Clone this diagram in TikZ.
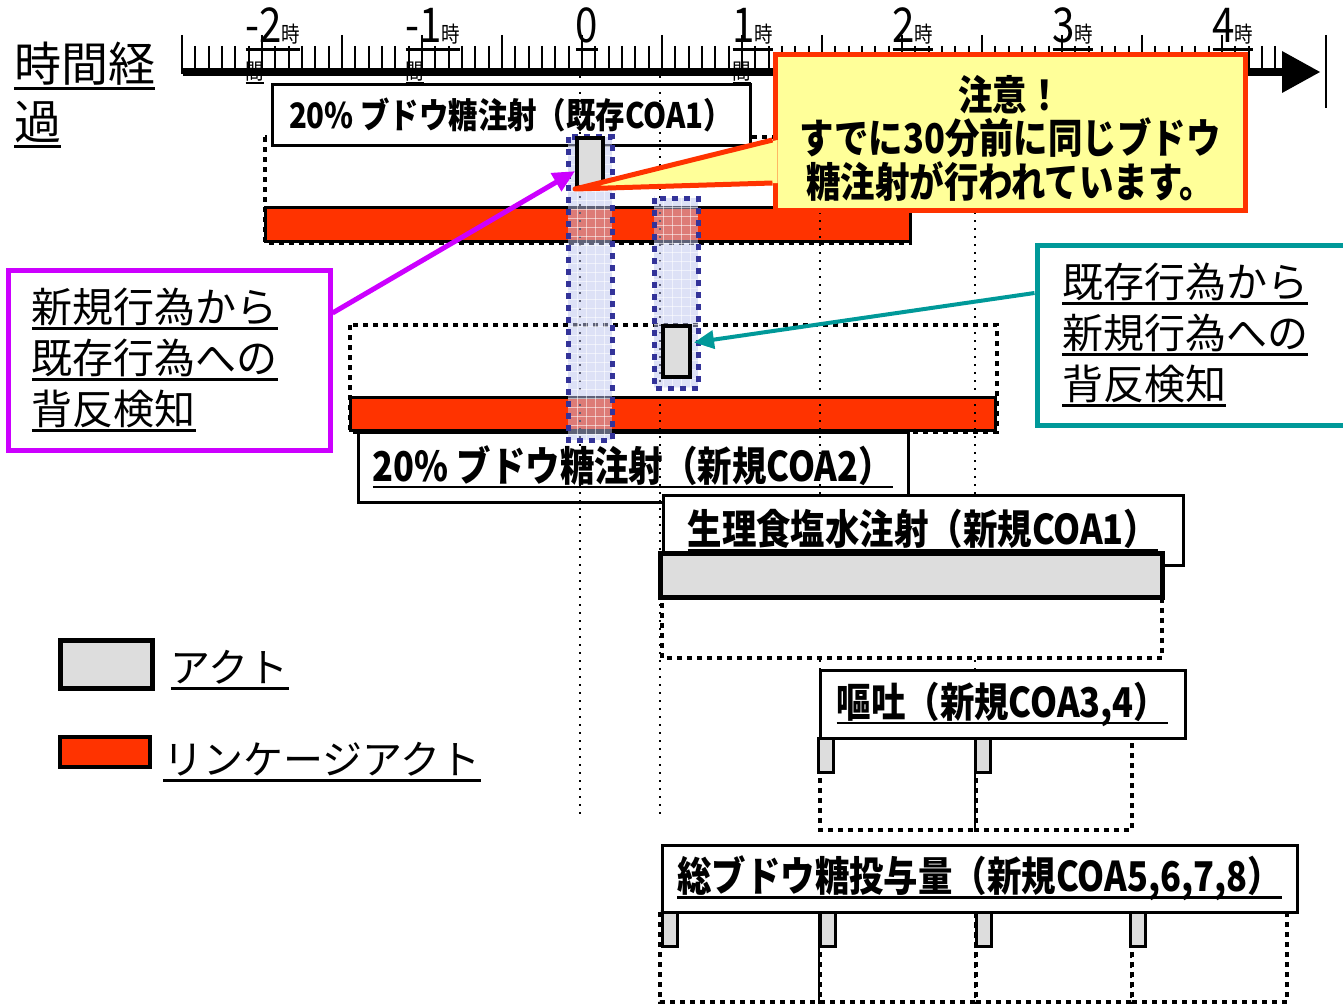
\documentclass[tikz,border=0pt]{standalone}
\usepackage{fontspec}
\setmainfont{Noto Sans CJK JP}
\newfontfamily\narrowjp[FakeStretch=0.84]{Noto Sans CJK JP}
\usetikzlibrary{arrows.meta,calc,positioning}

\definecolor{linkred}{HTML}{FF3300}
\definecolor{actgrey}{HTML}{DDDDDD}
\definecolor{notefill}{HTML}{FFFF99}
\definecolor{violetline}{HTML}{CC00FF}
\definecolor{tealline}{HTML}{009999}
\definecolor{colblue}{HTML}{333399}
\definecolor{colfill}{HTML}{BCC3EE}

\newsavebox\undlbox
\newcommand\undl[1]{\leavevmode\sbox\undlbox{#1}\rlap{\vrule width\wd\undlbox height -.11em depth .17em}\usebox\undlbox}

\tikzset{
  rulertick/.style={line width=1pt},
  hourlab/.style={anchor=base, font=\narrowjp\fontsize{24}{24}\selectfont},
  grouprect/.style={line width=2pt, dash pattern=on 2.5pt off 2.5pt},
  guide/.style={line width=1.1pt, dash pattern=on 1.2pt off 2.8pt},
  linkbar/.style={draw, line width=1.5pt, fill=linkred},
  actbox/.style={draw, line width=2pt, fill=actgrey},
  labelbox/.style={draw, line width=1.5pt, fill=white, font=\narrowjp\bfseries\fontsize{20.5}{24}\selectfont},
  colrect/.style={draw=colblue, line width=2.5pt, dash pattern=on 3pt off 3pt},
  colgrid/.style={white, opacity=0.55, line width=0.4pt},
  notebox/.style={draw=linkred, fill=notefill, line width=2.5pt, align=center, font=\narrowjp\bfseries\fontsize{20.5}{21.75}\selectfont},
  alertbox/.style={line width=2.5pt, fill=white, minimum height=90pt, align=left, font=\fontsize{20.5}{25.5}\selectfont},
  legtext/.style={font=\fontsize{20}{20}\selectfont}
}

\begin{document}
\begin{tikzpicture}[x=0.5pt,y=-0.5pt]
\tikzstyle{every node}+=[inner sep=0pt]
\useasboundingbox (0,0) rectangle (1343,1006);
% time axis
\foreach \h in {-2,-1,1,2,3,4}
  \node[hourlab] (hr\h) at ({582+160*\h+11},43) {\undl{\h{\fontsize{11}{11}\selectfont 時}}};
\node[hourlab] (hr0) at (587,43) {\undl{0}};
\foreach \h in {-2,-1,1}
  \node[anchor=base west, font=\narrowjp\fontsize{11}{11}\selectfont] (mid\h) at ($(hr\h.base west)+(0,37)$) {\undl{間}};
\foreach \i [evaluate=\i as \tx using 182+\i*13.333, evaluate=\i as \ty using {ifthenelse(mod(\i,6)==0,35,46)}] in {0,...,82}
  \draw[rulertick] (\tx,\ty) -- (\tx,74);
\draw[line width=4pt] (183,72) -- (1284,72);
\fill (1282,51) -- (1320,72) -- (1282,93) -- cycle;
\draw[line width=1pt] (1326,35) -- (1326,108);

% existing COA1
\draw[grouprect] (265,137) rectangle (910,243);
\draw[linkbar] (265,207) rectangle (910,241);
\node[labelbox, minimum width=239pt, minimum height=30pt, font=\narrowjp\bfseries\fontsize{17.5}{20}\selectfont] (coaA) at (511,115) {20\% ブドウ糖注射（既存COA1）};

% new COA2
\draw[grouprect] (350,325) rectangle (997,432);
\draw[linkbar] (350,397) rectangle (995,430);
\node[labelbox, minimum width=275pt, minimum height=35pt] (coaB) at (633,467) {\undl{20\% ブドウ糖注射（新規COA2）}};

% guides
\draw[guide] (580,76) -- (580,815);
\draw[guide] (660,76) -- (660,815);
\draw[guide] (820,76) -- (820,670);
\draw[guide] (975,76) -- (975,670);

% overlap columns
\foreach \xa/\ya/\xb/\yb in {568/137/612/440, 654/198/698/388}{
  \fill[colfill, opacity=0.5] (\xa,\ya) rectangle (\xb,\yb);
  \pgfmathtruncatemacro\ny{(\yb-\ya)/9}
  \foreach \g in {1,...,4} \draw[colgrid] ({\xa+9*\g},\ya) -- ({\xa+9*\g},\yb);
  \foreach \g in {1,...,\ny} \draw[colgrid] (\xa,{\ya+9*\g}) -- (\xb,{\ya+9*\g});
  \draw[colrect] (\xa,\ya) rectangle (\xb,\yb);
}
\node[actbox, minimum width=13pt, minimum height=24.5pt] (act1) at (590,162.5) {};
\node[actbox, minimum width=13.5pt, minimum height=25.5pt] (act2) at (676.5,351.5) {};

% saline
\node[labelbox, minimum width=260pt, minimum height=35pt] (coaC) at (923,530) {\undl{生理食塩水注射（新規COA1）}};
\draw[grouprect, fill=white] (662,553) rectangle (1162,658);
\draw[actbox, line width=2.5pt] (660,553) rectangle (1162,597);

% vomiting
\foreach \xa/\xb in {820/976, 976/1132}
  \draw[grouprect, fill=white] (\xa,738) rectangle (\xb,830);
\node[labelbox, minimum width=182.5pt, minimum height=34pt] (coaD) at (1002.5,704) {\undl{嘔吐（新規COA3,4）}};
\foreach \x [count=\k] in {825.5,982.5}
  \node[actbox, line width=1.5pt, minimum width=7.5pt, minimum height=17pt] (vom\k) at (\x,755) {};

% total glucose
\foreach \xa/\xb in {660/820, 820/976, 976/1132, 1132/1287}
  \draw[grouprect, fill=white] (\xa,912) rectangle (\xb,1002);
\node[labelbox, minimum width=317.5pt, minimum height=33.5pt] (coaE) at (979.5,878.5) {\undl{総ブドウ糖投与量（新規COA5,6,7,8）}};
\foreach \x [count=\k] in {670,827.5,983.5,1138}
  \node[actbox, line width=1.5pt, minimum width=7.5pt, minimum height=17pt] (glu\k) at (\x,929) {};

% detection notes
\node[alertbox, draw=violetline, minimum width=161pt, text width=137pt] (mbox) at (169,360) {\undl{新規行為から}\\\undl{既存行為への}\\\undl{背反検知}};
\draw[-{Triangle[length=11pt,width=10pt]}, violetline, line width=2.5pt] ($(mbox.east)+(0,-47)$) -- (act1.210);
\node[alertbox, draw=tealline, minimum width=164pt, text width=139pt] (tbox) at (1201,335) {\undl{既存行為から}\\\undl{新規行為への}\\\undl{背反検知}};
\draw[-{Triangle[length=10pt,width=9pt]}, tealline, line width=2pt] ($(tbox.west)+(0,-42)$) -- ($(act2.east)+(2,-9)$);

% warning
\node[notebox, minimum width=235pt, minimum height=77.5pt] (note) at (1010,132.5) {\rule{0pt}{23pt}注意！\\すでに30分前に同じブドウ\\糖注射が行われています。};
\coordinate (ptrA) at ($(note.west)+(0,7.5)$);
\coordinate (ptrB) at ($(note.west)+(0,50.5)$);
\fill[notefill] ($(ptrA)+(5,0)$) -- (act1.south west) -- ($(ptrB)+(5,0)$) -- cycle;
\draw[linkred, line width=2.5pt, line join=round] (ptrA) -- (act1.south west) -- (ptrB);

% title and key
\node[anchor=north west, align=left, font=\fontsize{23.5}{29}\selectfont] (title) at (14,42) {\undl{時間経}\\\undl{過}};
\node[actbox, line width=2.5pt, minimum width=46pt, minimum height=24pt] (keyact) at (106,664) {};
\node[legtext, right=8pt of keyact, yshift=-3pt] (keyacttxt) {\undl{アクト}};
\node[linkbar, line width=2pt, minimum width=45pt, minimum height=15pt] (keylink) at (105,752) {};
\node[legtext, right=5.5pt of keylink, yshift=-5pt] (keylinktxt) {\undl{リンケージアクト}};
\end{tikzpicture}
\end{document}
